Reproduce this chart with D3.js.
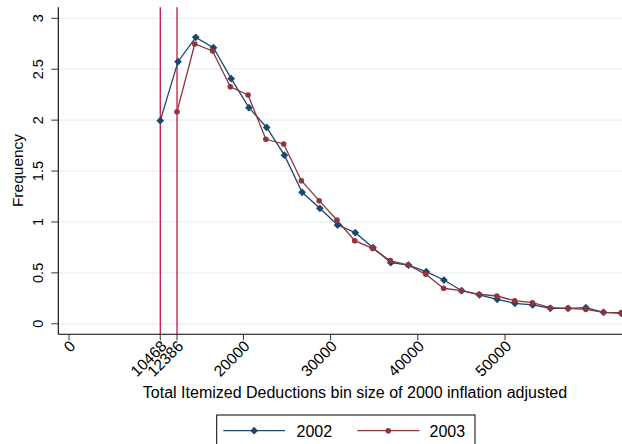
<!DOCTYPE html>
<html><head><meta charset="utf-8">
<script src="https://cdn.jsdelivr.net/npm/d3@7"></script>
<style>body{margin:0;background:#fff}svg{display:block}text{font-family:"Liberation Sans",Arial,sans-serif}</style>
</head><body><svg id="c" width="622" height="444"></svg>
<script>
const x2002 = [10468,12500,14535,16570,18600,20635,22670,24700,26735,28770,30800,32835,34870,36900,38935,40970,43000,45035,47070,49100,51135,53170,55200,57235,59270,61300,63335];
const y2002 = [1.995,2.574,2.813,2.711,2.407,2.122,1.928,1.656,1.291,1.134,0.970,0.895,0.747,0.600,0.577,0.512,0.430,0.325,0.283,0.241,0.201,0.185,0.152,0.152,0.158,0.113,0.103];
const x2003 = [12386,14424,16462,18500,20538,22576,24614,26652,28690,30728,32766,34804,36842,38880,40918,42956,44994,47032,49070,51108,53146,55184,57222,59260,61298,63336];
const y2003 = [2.083,2.748,2.679,2.328,2.247,1.812,1.766,1.405,1.209,1.019,0.816,0.741,0.620,0.577,0.486,0.349,0.325,0.290,0.273,0.227,0.207,0.158,0.152,0.142,0.113,0.109];
const xTicks = [0,10468,12386,20000,30000,40000,50000];
const yTicks = [0,0.5,1,1.5,2,2.5,3];
const refLines = [10468,12386];
const seriesNames = ["2002","2003"];

(function(){
const svg = d3.select("#c");
const pL = 58.3, pR = 622, pT = 7.3, pB = 334.3;
const x = d3.scaleLinear().domain([0,50000]).range([69,505]);
const y = d3.scaleLinear().domain([0,3]).range([323.8,18.3]);
const blue = "#1a476f", red = "#90353b", vline = "#c8163e";

// gridlines
svg.append("g").selectAll("line").data(yTicks).join("line")
  .attr("x1",pL).attr("x2",pR).attr("y1",d=>y(d)).attr("y2",d=>y(d))
  .attr("stroke","#eaf0f1").attr("stroke-width",1.2);

// reference lines
svg.append("g").selectAll("line").data(refLines).join("line")
  .attr("x1",d=>x(d)).attr("x2",d=>x(d)).attr("y1",pT).attr("y2",pB)
  .attr("stroke",vline).attr("stroke-width",1.3);

// series
const line = d3.line().x(d=>x(d[0])).y(d=>y(d[1]));
const d02 = x2002.map((v,i)=>[v,y2002[i]]);
const d03 = x2003.map((v,i)=>[v,y2003[i]]);
svg.append("path").datum(d02).attr("d",line).attr("fill","none").attr("stroke",blue).attr("stroke-width",1.3);
svg.append("path").datum(d03).attr("d",line).attr("fill","none").attr("stroke",red).attr("stroke-width",1.3);
const diamond = d3.symbol().type(d3.symbolSquare).size(30);
svg.append("g").selectAll("path").data(d02).join("path")
  .attr("d",diamond).attr("transform",d=>`translate(${x(d[0])},${y(d[1])}) rotate(45)`).attr("fill",blue);
svg.append("g").selectAll("circle").data(d03).join("circle")
  .attr("cx",d=>x(d[0])).attr("cy",d=>y(d[1])).attr("r",2.8).attr("fill",red);

// axes
const ax = svg.append("g");
ax.append("line").attr("x1",pL).attr("x2",pL).attr("y1",pT).attr("y2",pB).attr("stroke","#000").attr("stroke-width",1.1);
ax.append("line").attr("x1",pL).attr("x2",pR).attr("y1",pB).attr("y2",pB).attr("stroke","#000").attr("stroke-width",1.1);
ax.selectAll(".yt").data(yTicks).join("line").attr("class","yt")
  .attr("x1",pL-7).attr("x2",pL).attr("y1",d=>y(d)).attr("y2",d=>y(d)).attr("stroke","#333");
ax.selectAll(".ytl").data(yTicks).join("text").attr("class","ytl")
  .attr("transform",d=>`translate(43,${y(d)}) rotate(-90)`).attr("text-anchor","middle")
  .attr("font-size",14.5).text(d=>d);
ax.selectAll(".xt").data(xTicks).join("line").attr("class","xt")
  .attr("x1",d=>x(d)).attr("x2",d=>x(d)).attr("y1",pB).attr("y2",pB+6).attr("stroke","#333");
ax.selectAll(".xtl").data(xTicks).join("text").attr("class","xtl")
  .attr("transform",d=>`translate(${x(d)+0.5},${pB+6}) rotate(-45)`).attr("text-anchor","end")
  .attr("dy","0.62em").attr("font-size",15.5).text(d=>d);

svg.append("text").attr("transform","translate(23,170.5) rotate(-90)").attr("text-anchor","middle")
  .attr("font-size",15.5).text("Frequency");
svg.append("text").attr("x",355).attr("y",398).attr("text-anchor","middle")
  .attr("font-size",16).text("Total Itemized Deductions bin size of 2000 inflation adjusted");

// legend
const lg = svg.append("g");
lg.append("rect").attr("x",216.7).attr("y",415).attr("width",258.3).attr("height",33)
  .attr("fill","#fff").attr("stroke","#000").attr("stroke-width",1);
const items = [{c:blue,x0:223.3,x1:285,t:296.5,sym:"d"},{c:red,x0:357.3,x1:419.3,t:429.5,sym:"c"}];
items.forEach((it,i)=>{
  lg.append("line").attr("x1",it.x0).attr("x2",it.x1).attr("y1",430.7).attr("y2",430.7).attr("stroke",it.c).attr("stroke-width",1.3);
  const cx=(it.x0+it.x1)/2;
  if(it.sym==="d") lg.append("path").attr("d",diamond).attr("transform",`translate(${cx},430.7) rotate(45)`).attr("fill",it.c);
  else lg.append("circle").attr("cx",cx).attr("cy",430.7).attr("r",2.8).attr("fill",it.c);
  lg.append("text").attr("x",it.t).attr("y",436.5).attr("font-size",16).text(seriesNames[i]);
});
})();
</script></body></html>
